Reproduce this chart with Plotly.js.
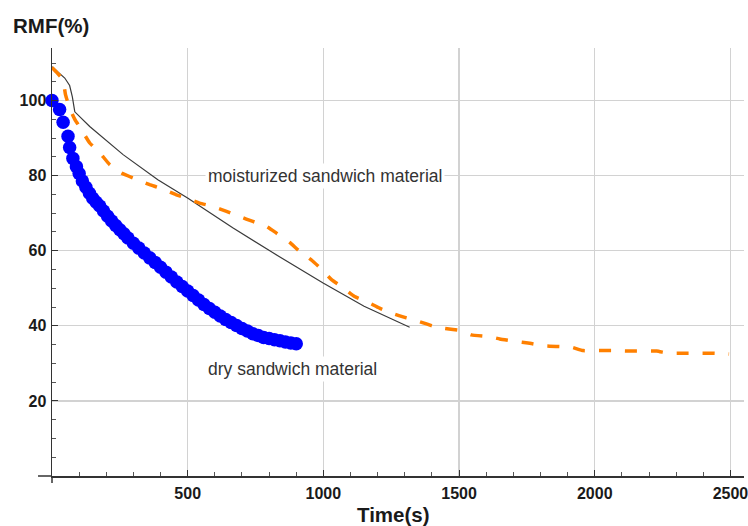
<!DOCTYPE html>
<html>
<head>
<meta charset="utf-8">
<script src="https://cdn.plot.ly/plotly-3.0.1.min.js"></script>
<style>html,body{margin:0;padding:0;background:#fff;}#chart{width:748px;height:526px;}</style>
</head>
<body>
<div id="chart"></div>
<script>
// Moisturized sandwich material (solid dark line)
const moistLineT = [0, 20, 47, 65, 75, 84, 139, 262, 390, 501, 666, 813, 999, 1150, 1318];
const moistLineV = [109, 107.8, 106, 104, 101, 97, 93.1, 85.6, 78.9, 74, 66.1, 59.5, 51.4, 45.2, 39.6];

// Moisturized sandwich material (orange dashed)
const moistDashT = [0, 20, 40, 50, 65, 84, 108, 139, 176, 213, 256, 305, 360, 397, 458, 495, 544, 592, 643, 692, 740, 790, 827, 876, 910, 958, 993, 1030, 1066, 1115, 1158, 1207, 1251, 1306, 1355, 1404, 1447, 1508, 1545, 1613, 1650, 1711, 1754, 1809, 1858, 1914, 1957, 2018, 2067, 2122, 2165, 2228, 2270, 2331, 2374, 2435, 2495];
const moistDashV = [108.8, 107.3, 105.6, 101.5, 98, 95, 92.3, 88.7, 86.1, 82.9, 80.7, 79.2, 77.6, 76.7, 74.9, 74, 72.7, 71.8, 70.5, 69.1, 67.8, 66.5, 64.7, 62.2, 60, 57.4, 55.1, 52.3, 50.5, 47.8, 46.5, 44.7, 43.4, 42.1, 41.1, 39.9, 39.3, 38.7, 37.6, 37.1, 36.5, 35.8, 35.4, 34.7, 34.5, 34.3, 33.4, 33.4, 33.4, 33.3, 33.3, 33.3, 32.7, 32.7, 32.7, 32.7, 32.5];

// Dry sandwich material (blue dots)
const dryT = [0, 28, 41, 59, 65, 77, 90, 100, 112, 125, 138, 150, 163, 176, 190, 205, 220, 235, 250, 265, 280, 300, 320, 340, 360, 380, 400, 420, 440, 460, 480, 500, 520, 540, 560, 580, 600, 620, 640, 660, 680, 700, 720, 740, 760, 780, 800, 820, 840, 860, 880, 900];
const dryV = [100, 97.6, 94.2, 90.5, 87.5, 84.6, 82.4, 80.6, 78.6, 76.9, 75.3, 74.0, 72.9, 71.9, 70.6, 69.2, 67.9, 66.7, 65.6, 64.5, 63.4, 62.0, 60.7, 59.4, 58.1, 56.9, 55.6, 54.3, 53.0, 51.7, 50.5, 49.3, 48.1, 46.9, 45.7, 44.6, 43.6, 42.6, 41.7, 40.9, 40.1, 39.3, 38.6, 37.9, 37.4, 36.9, 36.6, 36.3, 36.0, 35.7, 35.4, 35.2];

const xTicks = [500, 1000, 1500, 2000, 2500];
const yTicks = [20, 40, 60, 80, 100];

const traces = [
  {x: moistLineT, y: moistLineV, type: 'scatter', mode: 'lines',
   line: {color: '#3a3a3a', width: 1.2}, hoverinfo: 'skip'},
  {x: moistDashT, y: moistDashV, type: 'scatter', mode: 'lines',
   line: {color: '#ff8000', width: 3.5, dash: '12px,14px', shape: 'spline', smoothing: 0.4}, hoverinfo: 'skip'},
  {x: dryT, y: dryV, type: 'scatter', mode: 'markers', cliponaxis: false,
   marker: {color: '#0000ff', size: 13.5, line: {width: 0}}, hoverinfo: 'skip'}
];

const tickFont = {family: 'Liberation Sans, Arial, sans-serif', size: 16, color: '#1a1a1a', weight: 'bold'};

const layout = {
  width: 748, height: 526,
  margin: {l: 52, r: 4, t: 48, b: 50, pad: 0},
  paper_bgcolor: '#ffffff', plot_bgcolor: '#ffffff',
  showlegend: false,
  xaxis: {
    range: [0, 2550], tickvals: xTicks, ticktext: xTicks.map(String),
    showgrid: true, gridcolor: '#d2d2d2', gridwidth: 1.3,
    zeroline: false, showline: true, linecolor: '#333', linewidth: 1.5,
    ticks: 'inside', ticklen: 6, tickcolor: '#333', tickwidth: 1,
    minor: {dtick: 100, tick0: 0, ticks: 'inside', ticklen: 4, tickcolor: '#555', showgrid: false},
    tickfont: tickFont, ticklabeloverflow: 'allow', ticklabelstandoff: 2, fixedrange: true
  },
  yaxis: {
    range: [0, 114], tickvals: yTicks, ticktext: yTicks.map(String),
    showgrid: true, gridcolor: '#d2d2d2', gridwidth: 1.3,
    zeroline: false, showline: true, linecolor: '#333', linewidth: 1.5,
    ticks: 'inside', ticklen: 6, tickcolor: '#333', tickwidth: 1,
    minor: {dtick: 5, tick0: 0, ticks: 'inside', ticklen: 4, tickcolor: '#555', showgrid: false},
    tickfont: tickFont, ticklabelstandoff: 1, fixedrange: true
  },
  shapes: [
    {type: 'line', xref: 'paper', yref: 'paper', x0: 0, x1: 0, y0: 0, y1: -0.0164, line: {color: '#333', width: 1.5}},
    {type: 'line', xref: 'paper', yref: 'paper', x0: -0.0202, x1: 0, y0: 0, y1: 0, line: {color: '#333', width: 1.5}}
  ],
  annotations: [
    {text: 'RMF(%)', xref: 'paper', yref: 'paper', x: -0.0593, y: 1.0515, xanchor: 'left', yanchor: 'middle',
     showarrow: false, font: {family: 'Liberation Sans, Arial, sans-serif', size: 20.5, color: '#1a1a1a', weight: 'bold'}},
    {text: 'Time(s)', xref: 'paper', yref: 'paper', x: 0.4928, y: -0.0889, xanchor: 'center', yanchor: 'middle',
     showarrow: false, font: {family: 'Liberation Sans, Arial, sans-serif', size: 20.5, color: '#1a1a1a', weight: 'bold'}},
    {text: 'moisturized sandwich material', xref: 'x', yref: 'y', x: 1005, y: 80, xanchor: 'center', yanchor: 'middle',
     showarrow: false, bgcolor: '#ffffff', borderpad: 2,
     font: {family: 'Liberation Sans, Arial, sans-serif', size: 17.5, color: '#333'}},
    {text: 'dry sandwich material', xref: 'x', yref: 'y', x: 885, y: 28.6, xanchor: 'center', yanchor: 'middle',
     showarrow: false, bgcolor: '#ffffff', borderpad: 2,
     font: {family: 'Liberation Sans, Arial, sans-serif', size: 17.5, color: '#333'}}
  ]
};

Plotly.newPlot('chart', traces, layout, {staticPlot: true, displayModeBar: false});
</script>
</body>
</html>
